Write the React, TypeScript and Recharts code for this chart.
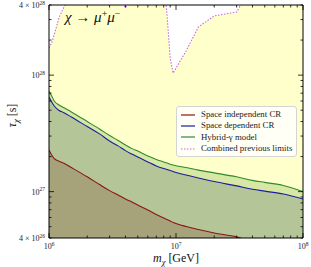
import { ComposedChart, Area, Line, XAxis, YAxis, Legend, Label } from "recharts";

// dark matter mass grid, GeV
const masses = [
  1e6, 1.05e6, 1.1e6, 1.2e6, 1.3e6, 1.5e6, 2e6, 2.5e6, 3e6, 3.5e6, 4e6, 4.5e6, 5e6, 6e6,
  7e6, 8e6, 8.5e6, 9e6, 9.5e6, 1e7, 1.2e7, 1.5e7, 2e7, 3e7, 4e7, 5e7, 7e7, 1e8,
];

// lifetime limits, s
const hybridGamma = [
  7.31e27, 6.62e27, 6.0e27, 5.54e27, 5.27e27, 4.83e27, 4.0e27, 3.45e27, 3.03e27, 2.75e27,
  2.51e27, 2.34e27, 2.23e27, 2.02e27, 1.89e27, 1.8e27, 1.76e27, 1.72e27, 1.69e27, 1.67e27,
  1.61e27, 1.53e27, 1.45e27, 1.34e27, 1.25e27, 1.2e27, 1.13e27, 1.0e27,
];
const spaceDependent = [
  6.49e27, 5.88e27, 5.43e27, 4.97e27, 4.78e27, 4.37e27, 3.62e27, 3.13e27, 2.72e27, 2.47e27,
  2.25e27, 2.1e27, 1.98e27, 1.8e27, 1.66e27, 1.58e27, 1.55e27, 1.52e27, 1.49e27, 1.46e27,
  1.39e27, 1.31e27, 1.22e27, 1.12e27, 1.05e27, 1.01e27, 9.55e26, 8.65e26,
];
const spaceIndependent = [
  2.28e27, 2.06e27, 1.92e27, 1.82e27, 1.76e27, 1.61e27, 1.34e27, 1.15e27, 1.02e27, 9.35e26,
  8.65e26, 8.15e26, 7.67e26, 6.95e26, 6.37e26, 5.94e26, 5.77e26, 5.6e26, 5.43e26, 5.32e26,
  5.02e26, 4.73e26, 4.42e26, 4.09e26, 3.7e26, 3.5e26, 3.2e26, 2.9e26,
];
const previousLimits = [
  1.71e28, 1.89e28, 2.22e28, 3.12e28, 3.76e28, 5e28, 6e28, 6e28, 6e28, 5e28,
  3.77e28, 5e28, 6e28, 6e28, 6e28, 7e28, 3.28e28, 1.4e28, 1.04e28, 1.15e28,
  1.61e28, 2.59e28, 3.22e28, 3.48e28, 6e28, 6e28, 6e28, 6e28,
];

const xTicks = [
  1e6, 2e6, 3e6, 4e6, 5e6, 6e6, 7e6, 8e6, 9e6, 1e7, 2e7, 3e7, 4e7, 5e7, 6e7, 7e7, 8e7, 9e7, 1e8,
];
const yTicks = [
  4e26, 5e26, 6e26, 7e26, 8e26, 9e26, 1e27, 2e27, 3e27, 4e27, 5e27, 6e27, 7e27, 8e27, 9e27,
  1e28, 2e28, 3e28, 4e28,
];
const xTickLabels = ["6", "7", "8"];
const yTickLabels = [
  { value: 4e26, mant: "4 × ", exp: "26" },
  { value: 1e27, mant: "", exp: "27" },
  { value: 1e28, mant: "", exp: "28" },
  { value: 4e28, mant: "4 × ", exp: "28" },
];

const legendItems = [
  { name: "Space independent CR", color: "#8b1414", dotted: false },
  { name: "Space dependent CR", color: "#1c1c9e", dotted: false },
  { name: "Hybrid-γ model", color: "#2f8a2f", dotted: false },
  { name: "Combined previous limits", color: "#c46ae8", dotted: true },
];

const data = masses.map((m, i) => ({
  m,
  hybrid: hybridGamma[i],
  dep: spaceDependent[i],
  indep: spaceIndependent[i],
  prev: previousLimits[i],
}));

const serif = "'Liberation Serif', 'DejaVu Serif', serif";
const isDecade = (v: number) => Math.abs(Math.log10(v) - Math.round(Math.log10(v))) < 1e-6;

const BottomTick = ({ x, y, payload }: any) => {
  const v = payload.value;
  const major = isDecade(v);
  const exp = xTickLabels.find((e) => Math.abs(Number(e) - Math.log10(v)) < 1e-6);
  return (
    <g>
      <line x1={x} x2={x} y1={y} y2={y - (major ? 5 : 2.5)} stroke="#000" strokeWidth={0.8} />
      {major && exp && (
        <text x={x} y={y + 11} textAnchor="middle" fontSize={8} fontFamily={serif} fill="#222">
          10
          <tspan dy={-3.5} fontSize={5.5}>{exp}</tspan>
        </text>
      )}
    </g>
  );
};

const TopTick = ({ x, y, payload }: any) => (
  <line x1={x} x2={x} y1={y} y2={y + (isDecade(payload.value) ? 5 : 2.5)} stroke="#000" strokeWidth={0.8} />
);

const LeftTick = ({ x, y, payload }: any) => {
  const v = payload.value;
  const lab = yTickLabels.find((t) => Math.abs(t.value - v) / v < 1e-6);
  return (
    <g>
      <line x1={x} x2={x + (isDecade(v) ? 5 : 2.5)} y1={y} y2={y} stroke="#000" strokeWidth={0.8} />
      {lab && (
        <text x={x - 4} y={y + 3} textAnchor="end" fontSize={8} fontFamily={serif} fill="#222">
          {lab.mant}10
          <tspan dy={-3.5} fontSize={5.5}>{lab.exp}</tspan>
        </text>
      )}
    </g>
  );
};

const RightTick = ({ x, y, payload }: any) => (
  <line x1={x} x2={x - (isDecade(payload.value) ? 5 : 2.5)} y1={y} y2={y} stroke="#000" strokeWidth={0.8} />
);

const XTitle = ({ viewBox }: any) => (
  <text x={viewBox.x + viewBox.width / 2} y={viewBox.y + 24} textAnchor="middle" fontSize={12} fontFamily={serif} fill="#111">
    <tspan fontStyle="italic">m</tspan>
    <tspan dy={3} fontSize={8.5} fontStyle="italic">χ</tspan>
    <tspan dy={-3}> [GeV]</tspan>
  </text>
);

const YTitle = ({ viewBox }: any) => {
  const cx = 16;
  const cy = viewBox.y + viewBox.height / 2 - 6;
  return (
    <text x={cx} y={cy} transform={`rotate(-90, ${cx}, ${cy})`} textAnchor="middle" fontSize={12} fontFamily={serif} fill="#111">
      <tspan fontStyle="italic">τ</tspan>
      <tspan dy={3} fontSize={8.5} fontStyle="italic">χ</tspan>
      <tspan dy={-3}> [s]</tspan>
    </text>
  );
};

const Title = ({ viewBox }: any) => (
  <text x={viewBox.x + 16} y={viewBox.y + 18} fontSize={15} fontFamily={serif} fill="#111">
    <tspan fontStyle="italic">χ</tspan>
    <tspan> → </tspan>
    <tspan fontStyle="italic">μ</tspan>
    <tspan dy={-5.5} fontSize={10}>+</tspan>
    <tspan dy={5.5} fontStyle="italic">μ</tspan>
    <tspan dy={-5.5} fontSize={10}>−</tspan>
  </text>
);

const LegendBox = () => (
  <div
    style={{
      background: "rgba(255,255,255,0.8)",
      border: "1px solid #d4d4d4",
      borderRadius: 3,
      padding: "2px 4px",
      fontFamily: serif,
      fontSize: 8.8,
      lineHeight: "11.3px",
      color: "#222",
    }}
  >
    {legendItems.map((it) => (
      <div key={it.name} style={{ display: "flex", alignItems: "center", whiteSpace: "nowrap" }}>
        <svg width={14} height={4} style={{ marginRight: 6 }}>
          <line
            x1={0}
            x2={14}
            y1={2}
            y2={2}
            stroke={it.color}
            strokeWidth={1.2}
            strokeDasharray={it.dotted ? "1.5 1.5" : undefined}
          />
        </svg>
        <span>{it.name}</span>
      </div>
    ))}
  </div>
);

export default function App() {
  return (
    <div style={{ position: "absolute", left: 0, top: 0, width: 311, height: 267, background: "#fff" }}>
      <ComposedChart width={311} height={267} data={data} margin={{ top: 4, right: 7, bottom: 28, left: 48 }}>
        <XAxis
          dataKey="m"
          type="number"
          scale="log"
          domain={[1e6, 1e8]}
          allowDataOverflow
          ticks={xTicks}
          interval={0}
          height={1}
          tickSize={0}
          tickMargin={0}
          tick={<BottomTick />}
          axisLine={{ stroke: "#000", strokeWidth: 1 }}
        >
          <Label content={<XTitle />} />
        </XAxis>
        <XAxis
          xAxisId="top"
          orientation="top"
          dataKey="m"
          type="number"
          scale="log"
          domain={[1e6, 1e8]}
          allowDataOverflow
          ticks={xTicks}
          interval={0}
          height={1}
          tickSize={0}
          tickMargin={0}
          tick={<TopTick />}
          axisLine={{ stroke: "#000", strokeWidth: 1 }}
        >
          <Label content={<Title />} />
        </XAxis>
        <YAxis
          type="number"
          scale="log"
          domain={[4e26, 4e28]}
          allowDataOverflow
          ticks={yTicks}
          interval={0}
          width={1}
          tickSize={0}
          tickMargin={0}
          tick={<LeftTick />}
          axisLine={{ stroke: "#000", strokeWidth: 1 }}
        >
          <Label content={<YTitle />} />
        </YAxis>
        <YAxis
          yAxisId="right"
          orientation="right"
          type="number"
          scale="log"
          domain={[4e26, 4e28]}
          allowDataOverflow
          ticks={yTicks}
          interval={0}
          width={1}
          tickSize={0}
          tickMargin={0}
          tick={<RightTick />}
          axisLine={{ stroke: "#000", strokeWidth: 1 }}
        />
        <Area type="linear" dataKey="prev" stroke="none" fill="#ffffcc" fillOpacity={1} isAnimationActive={false} />
        <Area type="monotone" dataKey="hybrid" stroke="#2f8a2f" strokeWidth={1.1} fill="#d6e8a4" fillOpacity={1} isAnimationActive={false} />
        <Area type="monotone" dataKey="dep" stroke="#1c1c9e" strokeWidth={1.1} fill="#b4c698" fillOpacity={1} isAnimationActive={false} />
        <Area type="monotone" dataKey="indep" stroke="#8b1414" strokeWidth={1.1} fill="#a6a37a" fillOpacity={1} isAnimationActive={false} />
        <Line type="linear" dataKey="prev" stroke="#c46ae8" strokeWidth={1.1} strokeDasharray="1.5 1.5" dot={false} activeDot={false} isAnimationActive={false} />
        <Legend
          layout="horizontal"
          verticalAlign="middle"
          align="center"
          content={<LegendBox />}
          wrapperStyle={{ top: 106, left: 176, width: "auto", height: "auto" }}
        />
      </ComposedChart>
    </div>
  );
}
